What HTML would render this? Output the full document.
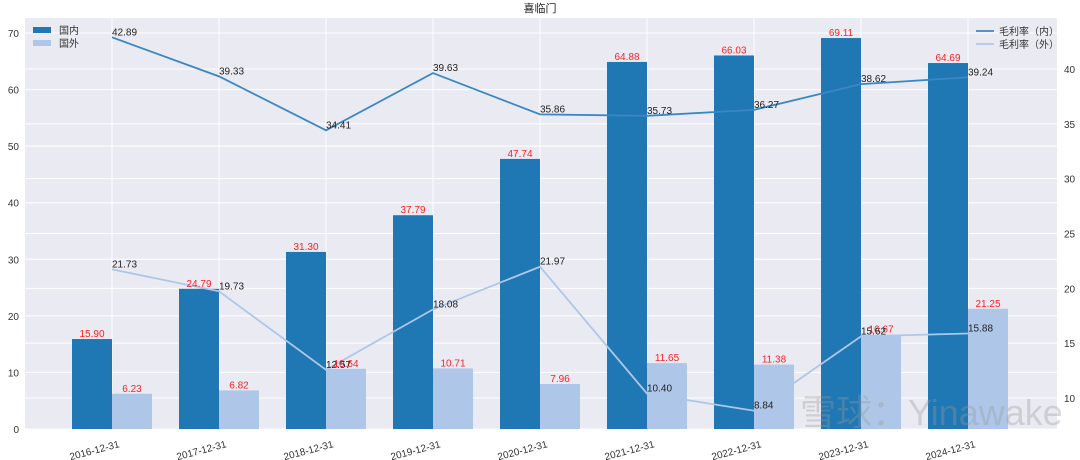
<!DOCTYPE html>
<html><head><meta charset="utf-8"><style>
body{margin:0;background:#fff;}
svg{display:block;font-family:"Liberation Sans","Noto Sans CJK SC",sans-serif;}
</style></head><body>
<svg id="chart" width="1080" height="460">
<rect x="25" y="18" width="1032" height="411" fill="#eaeaf2"/>
<g id="grid"></g><g id="bars"></g><g id="lines"></g><g id="labels"></g><g id="axes"></g>
<text x="540" y="12" text-anchor="middle" font-size="11" fill="#222">喜临门</text>
<g>
<rect x="33" y="27" width="18" height="6" fill="#1f77b4"/>
<text x="59" y="34" font-size="10" fill="#333">国内</text>
<rect x="33" y="40" width="18" height="6" fill="#aec7e8"/>
<text x="59" y="47" font-size="10" fill="#333">国外</text>
</g>
<g>
<line x1="976" y1="31" x2="994" y2="31" stroke="#3a87c3" stroke-width="1.8"/>
<text x="999" y="35" font-size="10" fill="#333">毛利率（内）</text>
<line x1="976" y1="44" x2="994" y2="44" stroke="#aec7e8" stroke-width="1.8"/>
<text x="999" y="48" font-size="10" fill="#333">毛利率（外）</text>
</g>
<text x="800" y="425" font-size="36" fill="#999" opacity="0.35">雪球：Yinawake</text>
</svg>
<script>
const categories=["2016-12-31","2017-12-31","2018-12-31","2019-12-31","2020-12-31","2021-12-31","2022-12-31","2023-12-31","2024-12-31"];
const domestic=[15.90,24.79,31.30,37.79,47.74,64.88,66.03,69.11,64.69];
const foreign=[6.23,6.82,10.64,10.71,7.96,11.65,11.38,16.67,21.25];
const marginDomestic=[42.89,39.33,34.41,39.63,35.86,35.73,36.27,38.62,39.24];
const marginForeign=[21.73,19.73,12.57,18.08,21.97,10.40,8.84,15.62,15.88];
const leftTicks=[0,10,20,30,40,50,60,70];
const rightTicks=[10,15,20,25,30,35,40];
const NS="http://www.w3.org/2000/svg";
const plotTop=18,plotBottom=429,plotLeft=25,plotRight=1057;
const yL=v=>429-v*(396/70);
const yR=v=>69-(v-40)*(329/30);
const x0=112,step=107,bw=40;
const xc=i=>x0+i*step;
function mk(tag,attrs,parent){const e=document.createElementNS(NS,tag);for(const k in attrs)e.setAttribute(k,attrs[k]);document.getElementById(parent).appendChild(e);return e;}
leftTicks.forEach(t=>{
 const l=mk('line',{x1:plotLeft,x2:plotRight,y1:yL(t),y2:yL(t),stroke:'#fff','stroke-width':1},'grid');
 
 
 const tx=mk('text',{x:19,y:yL(t)+4,'text-anchor':'end','font-size':10,fill:'#333'},'axes');
 tx.textContent=t;
 
 
});
rightTicks.forEach(t=>{
 const l=mk('line',{x1:plotLeft,x2:plotRight,y1:yR(t),y2:yR(t),stroke:'#fff','stroke-width':1},'grid');
 
 
 const tx=mk('text',{x:1064,y:yR(t)+4,'font-size':10,fill:'#333'},'axes');
 tx.textContent=t;
 
 
});
categories.forEach((c,i)=>{
 const l=mk('line',{x1:xc(i),x2:xc(i),y1:plotTop,y2:plotBottom,stroke:'#fff','stroke-width':1},'grid');
 
 
 const b1=mk('rect',{x:xc(i)-bw,y:yL(domestic[i]),width:bw,height:plotBottom-yL(domestic[i]),fill:'#1f77b4'},'bars');
 
 
 const b2=mk('rect',{x:xc(i),y:yL(foreign[i]),width:bw,height:plotBottom-yL(foreign[i]),fill:'#aec7e8'},'bars');
 
 
 const t1=mk('text',{x:xc(i)-bw/2,y:yL(domestic[i])-2,'text-anchor':'middle','font-size':10,fill:'#ff2020'},'labels');
 t1.textContent=domestic[i].toFixed(2);
 
 
 const t2=mk('text',{x:xc(i)+bw/2,y:yL(foreign[i])-2,'text-anchor':'middle','font-size':10,fill:'#ff2020'},'labels');
 t2.textContent=foreign[i].toFixed(2);
 
 
 const tl=mk('text',{x:xc(i)+8,y:447,'text-anchor':'end','font-size':10,fill:'#333',transform:`rotate(-15 ${xc(i)+8} 447)`},'axes');
 tl.textContent=c;
 
 
 const m1=mk('text',{x:xc(i),y:yR(marginDomestic[i])-2,'font-size':10,fill:'#222'},'labels');
 m1.textContent=marginDomestic[i].toFixed(2);
 
 
 const m2=mk('text',{x:xc(i),y:yR(marginForeign[i])-2,'font-size':10,fill:'#222'},'labels');
 m2.textContent=marginForeign[i].toFixed(2);
 
 
});
const p1=mk('polyline',{points:marginDomestic.map((v,i)=>xc(i)+','+yR(v)).join(' '),fill:'none',stroke:'#3a87c3','stroke-width':1.8},'lines');


const p2=mk('polyline',{points:marginForeign.map((v,i)=>xc(i)+','+yR(v)).join(' '),fill:'none',stroke:'#aec7e8','stroke-width':1.8},'lines');


</script>
</body></html>
